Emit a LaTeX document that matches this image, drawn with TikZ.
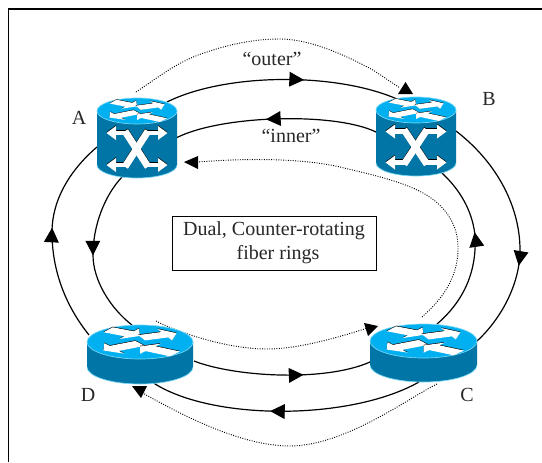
\documentclass[tikz,border=0pt]{standalone}
\usepackage{fontspec}
\setmainfont{Liberation Serif}
\usetikzlibrary{arrows.meta,decorations.markings}
\definecolor{rtop}{RGB}{0,176,240}
\definecolor{rside}{RGB}{0,117,166}
\definecolor{rrim}{RGB}{120,215,245}
\definecolor{ink}{RGB}{40,40,40}
\tikzset{
  devbox/.style={inner sep=0pt,outer sep=0pt,minimum width=#1},
  ring/.style={line width=0.9pt,black},
  midtip/.style={postaction={decorate},decoration={markings,mark=at position #1 with {\arrow{Triangle[length=11pt,width=11pt]}}}},
  dots/.style={line width=0.7pt,black,dash pattern=on 0.7pt off 1.1pt},
  tiphead/.style={fill=black},
  label/.style={text=ink,font=\fontsize{15}{17}\selectfont,inner sep=0pt},
  frameline/.style={line width=0.9pt,black},
}
% flat arrow on a router top, in unit-disc coordinates
\newcommand{\flatarrow}[4]{%
  \pgfmathsetmacro\fdx{#3-(#1)}\pgfmathsetmacro\fdy{#4-(#2)}%
  \pgfmathsetmacro\flen{veclen(\fdx,\fdy)}%
  \pgfmathsetmacro\fux{\fdx/\flen}\pgfmathsetmacro\fuy{\fdy/\flen}%
  \pgfmathsetmacro\fbx{#3-0.24*\fux}\pgfmathsetmacro\fby{#4-0.24*\fuy}%
  \foreach \fc/\fs in {black/-0.035,white/0}{%
    \fill[\fc,shift={(0,\fs)}]
      ({#1-0.17*\fuy},{#2+0.17*\fux}) -- ({\fbx-0.17*\fuy},{\fby+0.17*\fux})
      -- ({\fbx-0.36*\fuy},{\fby+0.36*\fux}) -- (#3,#4)
      -- ({\fbx+0.36*\fuy},{\fby-0.36*\fux}) -- ({\fbx+0.17*\fuy},{\fby-0.17*\fux})
      -- ({#1+0.17*\fuy},{#2-0.17*\fux}) -- cycle;
  }%
}
% cylinder / disc: centre of the top ellipse, radii, height
\newcommand{\routericon}[5]{%
  \fill[rside] ({#1-#3},#2) -- ({#1-#3},{#2+#5})
    arc[start angle=180,end angle=0,x radius=#3,y radius=#4] -- ({#1+#3},#2) -- cycle;
  \draw[rrim,line width=0.5pt] ({#1-#3},{#2+#5})
    arc[start angle=180,end angle=0,x radius=#3,y radius=#4];
  \fill[rtop,draw=rrim,line width=0.5pt] (#1,#2) ellipse[x radius=#3,y radius=#4];
  \begin{scope}[shift={(#1,#2)},xscale=#3,yscale=#4]
    \flatarrow{-0.6}{-0.72}{0}{-0.36}
    \flatarrow{0.03}{-0.25}{0.69}{-0.52}
    \flatarrow{0}{0.08}{-0.69}{0.5}
    \flatarrow{0.66}{0.7}{0}{0.26}
  \end{scope}
}
% the crossing double arrows on a cylinder side
\newcommand{\xarrows}[3]{%
  \begin{scope}[shift={(#1,#2)}]
    \foreach \xc/\xs in {black/-0.8,white/0}{%
      \begin{scope}[shift={(0,\xs)}]
        \draw[\xc,line width=3.6pt] (-22,-#3) -- (-10,-#3);
        \draw[\xc,line width=3.6pt] (10,-#3) -- (22,-#3);
        \draw[\xc,line width=3.6pt] (-22,#3) -- (-10,#3);
        \draw[\xc,line width=3.6pt] (10,#3) -- (22,#3);
        \draw[\xc,line width=5.2pt] (-12,{-#3-1.8}) -- (11,{#3+1.8});
        \draw[\xc,line width=5.2pt] (11,{-#3-1.8}) -- (-12,{#3+1.8});
        \fill[\xc] (-30.5,-#3) -- (-21,{-#3-7}) -- (-21,{-#3+7}) -- cycle;
        \fill[\xc] (-30.5,#3) -- (-21,{#3-7}) -- (-21,{#3+7}) -- cycle;
        \fill[\xc] (30.5,-#3) -- (21,{-#3-7}) -- (21,{-#3+7}) -- cycle;
        \fill[\xc] (30.5,#3) -- (21,{#3-7}) -- (21,{#3+7}) -- cycle;
      \end{scope}
    }
  \end{scope}
}
\begin{document}
\begin{tikzpicture}[x=0.75pt,y=-0.75pt]
\useasboundingbox (0,0) rectangle (542,462);
\fill[white] (0,0) rectangle (542,462);
\draw[frameline] (542,9) -- (8.5,9) -- (8.5,462);

% routers as named boxes (icons are painted later, over the line ends)
\node[devbox=60pt,minimum height=59.25pt] (A) at (137,137.5) {};
\node[devbox=60pt,minimum height=58.5pt] (B) at (416,136) {};
\node[devbox=80.25pt,minimum height=42.75pt] (C) at (423.5,352.5) {};
\node[devbox=79.5pt,minimum height=42pt] (D) at (140,353) {};

% solid rings
\draw[ring,midtip=0.595] ([shift={(30,4)}]A.north) .. controls (225,73) and (335,72) .. ([shift={(-19,2)}]B.north);
\draw[ring,midtip=0.64] ([shift={(0,-5)}]B.east) .. controls (500,165) and (520,210) .. (520,250) .. controls (520,285) and (500,320) .. ([shift={(0,-11.5)}]C.east);
\draw[ring,midtip=0.555] ([shift={(-4.5,1)}]C.south) .. controls (350,421) and (210,421) .. ([shift={(12,1)}]D.south);
\draw[ring,midtip=0.55] ([shift={(2,-18)}]D.west) .. controls (65,305) and (52,270) .. (52,232) .. controls (52,200) and (70,170) .. ([shift={(0,9.5)}]A.west);
\draw[ring,midtip=0.55] ([shift={(0,-4)}]B.west) .. controls (335,112) and (222,115) .. (A.east);
\draw[ring,midtip=0.51] ([shift={(-15,0)}]A.south) .. controls (105,195) and (93,225) .. (93,255) .. controls (93,280) and (110,308) .. ([shift={(-8,0)}]D.north);
\draw[ring,midtip=0.62] ([shift={(1,8)}]D.east) .. controls (235,377) and (325,382) .. ([shift={(0,9.5)}]C.west);
\draw[ring,midtip=0.6] ([shift={(13.5,0)}]C.north) .. controls (465,300) and (477,270) .. (475,235) .. controls (472,210) and (460,190) .. ([shift={(26,-2)}]B.south);

% dotted traffic paths
\draw[dots] ([shift={(-1,-6)}]A.north) .. controls (160,76) and (180,60) .. (207,52) .. controls (230,44) and (255,39) .. (280,39) .. controls (310,39) and (345,55) .. (373,70) -- ([shift={(-16,-9)}]B.north);
\draw[dots] ([shift={(-1.5,-7)}]C.north) .. controls (435,305) and (457,285) .. (458,250) .. controls (459,225) and (445,205) .. (423,193) .. controls (400,180) and (360,172) .. (340,167) .. controls (310,160) and (260,157) .. ([shift={(21,24.5)}]A.east);
\draw[dots] ([shift={(16,-4)}]D.north) .. controls (175,331) and (225,349) .. (267,349) .. controls (295,349) and (330,340) .. ([shift={(-4,-24)}]C.west);
\draw[dots] ([shift={(13.5,3)}]C.south) .. controls (410,397) and (345,446) .. (290,446) .. controls (245,446) and (190,420) .. ([shift={(1,11)}]D.south);

% heads of the dotted paths
\fill[tiphead] (405.5,82) -- (398,94) -- (413,94) -- cycle;
\fill[tiphead] (184,162) -- (198,156) -- (198,169) -- cycle;
\fill[tiphead] (378,326) -- (364,323) -- (368,336) -- cycle;
\fill[tiphead] (141,398) -- (132,386) -- (147,386) -- cycle;

% icons
\routericon{137}{111}{40}{13}{54}
\xarrows{137}{149}{16}
\routericon{416}{110}{40}{13}{53}
\xarrows{416}{147}{15.5}
\routericon{423.5}{341}{53.5}{17}{24}
\routericon{140}{342}{53}{17}{25}

% labels
\node[label] (la) at (79,118) {A};
\node[label] (lb) at (489,99) {B};
\node[label] (lc) at (467,395) {C};
\node[label] (ld) at (88,395) {D};
\node[label] (outer) at (272,59) {“outer”};
\node[label] (inner) at (291,136) {“inner”};
\node[draw=black,line width=0.7pt,minimum width=153pt,minimum height=40.5pt,inner sep=0pt,
  align=center,text=ink,font=\fontsize{15}{18}\selectfont] (note) at (274,243)
  {Dual, Counter-rotating\\\hspace*{6pt}fiber rings};
\end{tikzpicture}
\end{document}
